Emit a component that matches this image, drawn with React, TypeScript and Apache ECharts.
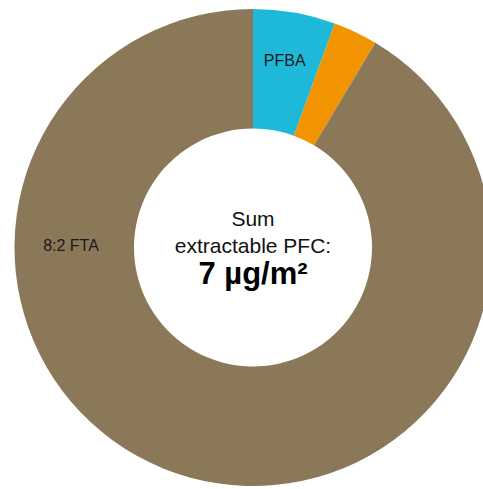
import React, { useEffect, useRef } from "react";
import * as echarts from "echarts";

// Share of the sum of extractable PFCs (µg/m²)
const compounds = ["PFBA", "Other PFC", "8:2 FTA"];
const amounts = [0.39, 0.21, 6.4];
const sliceColors = ["#1EB8D8", "#F29300", "#8B7859"];
const showLabel = [true, false, false];

const centerLines = ["Sum", "extractable PFC:"];
const totalText = "7 µg/m²";

const FONT = "'Liberation Sans', Arial, Helvetica, sans-serif";

export default function App() {
  const ref = useRef<HTMLDivElement>(null);

  useEffect(() => {
    if (!ref.current) return;
    const chart = echarts.init(ref.current, undefined, { renderer: "svg" });
    const cx = 253;
    const cy = 247.5;

    chart.setOption({
      animation: false,
      backgroundColor: "#ffffff",
      series: [
        {
          type: "pie",
          center: [cx, cy],
          radius: [119, 238.5],
          startAngle: 90,
          clockwise: true,
          avoidLabelOverlap: false,
          itemStyle: { borderWidth: 0 },
          emphasis: { disabled: true },
          labelLine: { show: false },
          label: {
            position: "inside",
            formatter: "{b}",
            color: "#1a1a1a",
            fontSize: 16,
            fontFamily: FONT,
          },
          data: compounds.map((name, i) => ({
            name,
            value: amounts[i],
            itemStyle: { color: sliceColors[i] },
            label: {
              show: showLabel[i],
              position: "inside",
              formatter: "{b}",
              color: "#1a1a1a",
              fontSize: 16,
              fontFamily: FONT,
              offset: [0, -8],
            },
          })),
        },
      ],
      graphic: [
        {
          type: "text",
          x: 71,
          y: 245,
          z: 100,
          style: {
            text: compounds[2],
            fill: "#1a1a1a",
            font: `16px ${FONT}`,
            textAlign: "center",
            textVerticalAlign: "middle",
          },
        },
        {
          type: "text",
          x: cx,
          y: 229,
          z: 100,
          style: {
            text: centerLines[0],
            fill: "#111",
            font: `21px ${FONT}`,
            textAlign: "center",
            textVerticalAlign: "bottom",
          },
        },
        {
          type: "text",
          x: cx,
          y: 256,
          z: 100,
          style: {
            text: centerLines[1],
            fill: "#111",
            font: `21px ${FONT}`,
            textAlign: "center",
            textVerticalAlign: "bottom",
          },
        },
        {
          type: "text",
          x: cx,
          y: 289,
          z: 100,
          style: {
            text: totalText,
            fill: "#000",
            font: `bold 31px ${FONT}`,
            textAlign: "center",
            textVerticalAlign: "bottom",
          },
        },
      ],
    });

    return () => chart.dispose();
  }, []);

  return (
    <div
      ref={ref}
      style={{ position: "fixed", left: 0, top: 0, width: 483, height: 489 }}
    />
  );
}
